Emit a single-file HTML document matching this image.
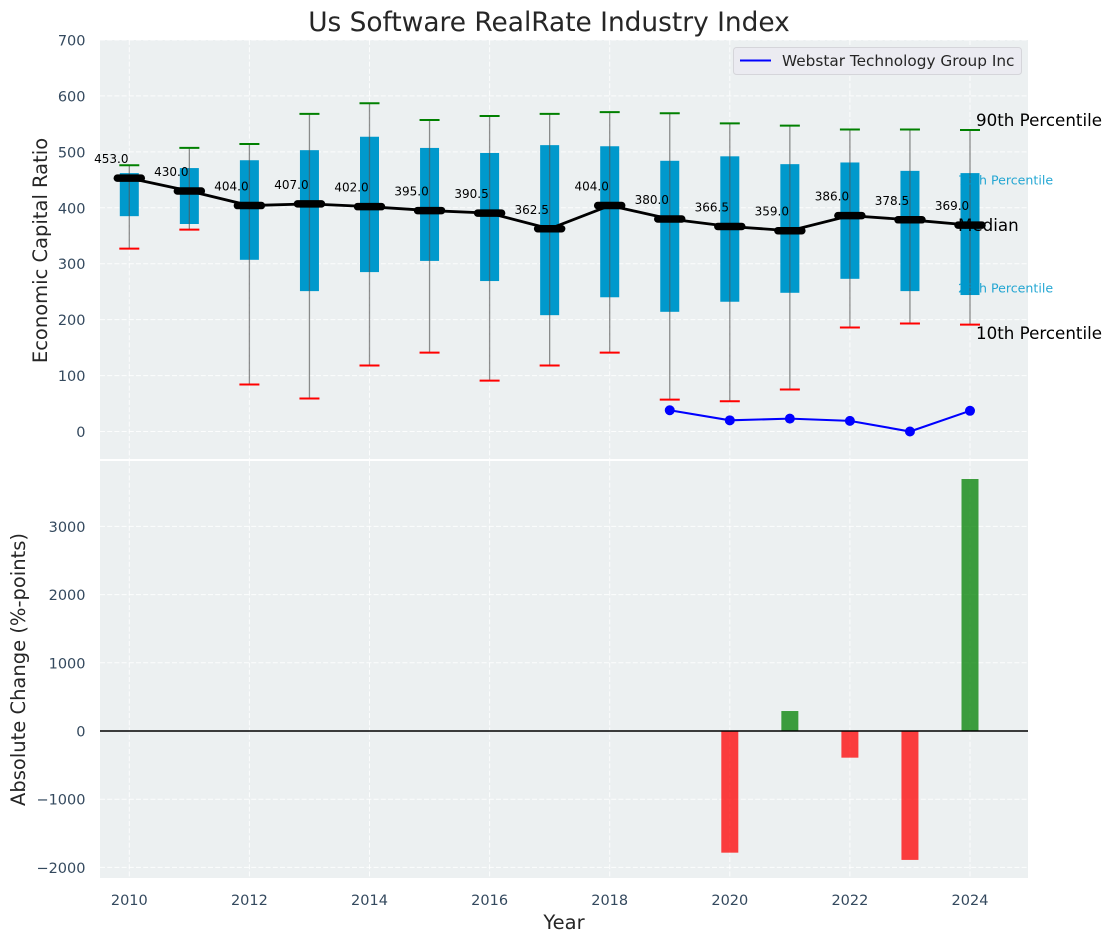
<!DOCTYPE html>
<html lang="en">
<head>
<meta charset="utf-8">
<title>Us Software RealRate Industry Index</title>
<style>
html,body{margin:0;padding:0;background:#fff;}
svg{display:block;font-family:"DejaVu Sans","Liberation Sans",sans-serif;}
</style>
</head>
<body>
<svg id="chart" xmlns="http://www.w3.org/2000/svg" width="1111" height="942" viewBox="0 0 1111 942">
  <rect x="0" y="0" width="1111" height="942" fill="#ffffff"/>
  <rect x="100" y="40" width="928" height="419" fill="#ecf0f1"/>
  <rect x="100" y="461" width="928" height="417" fill="#ecf0f1"/>
  <g id="grid"></g>
  <g id="boxes"></g>
  <g id="medians"></g>
  <g id="company"></g>
  <g id="bars"></g>
  <line x1="100" x2="1028" y1="731" y2="731" stroke="#000" stroke-width="1.4"/>
  <g id="ticks"></g>
  <text x="549" y="31" text-anchor="middle" font-size="26.4px" fill="#262626">Us Software RealRate Industry Index</text>
  <text transform="translate(47,250.500) rotate(-90)" text-anchor="middle" font-size="19.5px" fill="#262626">Economic Capital Ratio</text>
  <text transform="translate(25,669.500) rotate(-90)" text-anchor="middle" font-size="19.5px" fill="#262626">Absolute Change (%-points)</text>
  <text x="564" y="929" text-anchor="middle" font-size="19.5px" fill="#262626">Year</text>
  <g>
    <rect x="733.5" y="47.5" width="288" height="27" rx="3" fill="#ebebf1" stroke="#d5d5da" stroke-width="1"/>
    <line x1="740" x2="771" y1="60.500" y2="60.500" stroke="#0000ff" stroke-width="2"/>
    <text x="782" y="66" font-size="15.3px" fill="#262626">Webstar Technology Group Inc</text>
  </g>
  <g>
    <text x="976" y="126" font-size="16.7px" fill="#000">90th Percentile</text>
    <text x="958" y="184.500" font-size="12.6px" fill="#0099cc" fill-opacity="0.85">75th Percentile</text>
    <text x="958" y="231" font-size="16.7px" fill="#000">Median</text>
    <text x="958" y="292.500" font-size="12.6px" fill="#0099cc" fill-opacity="0.85">25th Percentile</text>
    <text x="976" y="339" font-size="16.7px" fill="#000">10th Percentile</text>
  </g>
</svg>
<script>
const years = [2010,2011,2012,2013,2014,2015,2016,2017,2018,2019,2020,2021,2022,2023,2024];
const p90 = [476,507,514,568,587,557,564,568,571,569,551,547,540,540,539];
const p75 = [462,471,485,503,527,507,498,512,510,484,492,478,481,466,462];
const median = [453,430,404,407,402,395,390.5,362.5,404,380,366.5,359,386,378.5,369];
const p25 = [385,371,307,251,285,305,269,208,240,214,232,248,273,251,244];
const p10 = [327,361,84,59,118,141,91,118,141,57,54,75,186,193,191];
const companyYears = [2019,2020,2021,2022,2023,2024];
const companyValues = [38,20,23,19,0,37];
const changeYears = [2020,2021,2022,2023,2024];
const changeValues = [-1784,293,-391,-1890,3695];
const xTicks = [2010,2012,2014,2016,2018,2020,2022,2024];
const topTicks = [0,100,200,300,400,500,600,700];
const bottomTicks = [-2000,-1000,0,1000,2000,3000];

const NS = 'http://www.w3.org/2000/svg';
function xScale(v){ return 129.3 + (v - 2010) * 60.05; }
function yTop(v){ return 431.5 - v * 0.5593; }
function yBottom(v){ return 731 - v * 0.0682; }
function make(tag, parent, attrs, text){
  const node = document.createElementNS(NS, tag);
  for (const k in attrs) node.setAttribute(k, attrs[k]);
  if (text !== undefined) node.textContent = text;
  document.getElementById(parent).appendChild(node);
  return node;
}
const DASH = '5 2.2';

/* grid */
xTicks.forEach(function(t){
  const a = make('line','grid',{x1:xScale(t),x2:xScale(t),y1:40,y2:459,stroke:'#fff','stroke-width':1,'stroke-dasharray':DASH,'stroke-opacity':0.85});
  
  
  const b = make('line','grid',{x1:xScale(t),x2:xScale(t),y1:461,y2:878,stroke:'#fff','stroke-width':1,'stroke-dasharray':DASH,'stroke-opacity':0.85});
  
  
  const lab = make('text','ticks',{x:xScale(t),y:905,'text-anchor':'middle','font-size':'14.5px',fill:'#34495e'},String(t));
  
  
});
topTicks.forEach(function(t){
  const g = make('line','grid',{x1:100,x2:1028,y1:yTop(t),y2:yTop(t),stroke:'#fff','stroke-width':1,'stroke-dasharray':DASH,'stroke-opacity':0.85});
  
  
  const lab = make('text','ticks',{x:85.500,y:yTop(t)+5.5,'text-anchor':'end','font-size':'14.5px',fill:'#34495e'},String(t));
  
  
});
bottomTicks.forEach(function(t){
  const g = make('line','grid',{x1:100,x2:1028,y1:yBottom(t),y2:yBottom(t),stroke:'#fff','stroke-width':1,'stroke-dasharray':DASH,'stroke-opacity':0.85});
  
  
  const lab = make('text','ticks',{x:85.500,y:yBottom(t)+5.5,'text-anchor':'end','font-size':'14.5px',fill:'#34495e'},String(t).replace('-','\u2212'));
  
  
});

/* percentile boxes, whiskers and caps */
years.forEach(function(yr,i){
  const cx = xScale(yr);
  const box = make('rect','boxes',{x:cx-9.5,y:yTop(p75[i]),width:19,height:yTop(p25[i])-yTop(p75[i]),fill:'#0099cc'});
  
  
  const whisker = make('line','boxes',{x1:cx,x2:cx,y1:yTop(p90[i]),y2:yTop(p10[i]),stroke:'#555','stroke-width':1.3,'stroke-opacity':0.65});
  
  
  const capHi = make('line','boxes',{x1:cx-10,x2:cx+10,y1:yTop(p90[i]),y2:yTop(p90[i]),stroke:'#008000','stroke-width':2});
  
  
  const capLo = make('line','boxes',{x1:cx-10,x2:cx+10,y1:yTop(p10[i]),y2:yTop(p10[i]),stroke:'#ff0000','stroke-width':2});
  
  
});

/* median line, thick markers, printed values */
const medianLine = make('polyline','medians',{points:years.map(function(yr,i){return xScale(yr)+','+yTop(median[i]);}).join(' '),fill:'none',stroke:'#000','stroke-width':2.8});


years.forEach(function(yr,i){
  const cx = xScale(yr), cy = yTop(median[i]);
  const mk = make('line','medians',{x1:cx-12,x2:cx+12,y1:cy,y2:cy,stroke:'#000','stroke-width':7.5,'stroke-linecap':'round'});
  
  
  const lab = make('text','medians',{x:cx-18,y:cy-15,'text-anchor':'middle','font-size':'12px',fill:'#000'},median[i].toFixed(1));
  
  
});

/* company series */
const companyLine = make('polyline','company',{points:companyYears.map(function(yr,i){return xScale(yr)+','+yTop(companyValues[i]);}).join(' '),fill:'none',stroke:'#0000ff','stroke-width':2.1});


companyYears.forEach(function(yr,i){
  const pt = make('circle','company',{cx:xScale(yr),cy:yTop(companyValues[i]),r:5,fill:'#0000ff'});
  
  
});

/* change bars */
changeYears.forEach(function(yr,i){
  const v = changeValues[i];
  const top = Math.min(yBottom(v), yBottom(0));
  const h = Math.abs(yBottom(v) - yBottom(0));
  const bar = make('rect','bars',{x:xScale(yr)-8.5,y:top,width:17,height:h,fill:v>=0?'#008000':'#ff0000','fill-opacity':0.75});
  
  
});
</script>
</body>
</html>
